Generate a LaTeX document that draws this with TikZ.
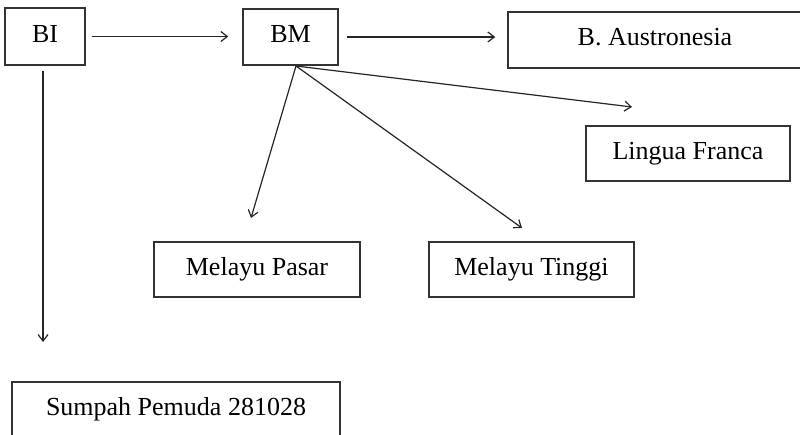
\documentclass[tikz,border=0pt]{standalone}
\usepackage{fontspec}
\setmainfont{Liberation Serif}
\usetikzlibrary{arrows.meta}
\begin{document}
\begin{tikzpicture}[x=1pt,y=-1pt,
 box/.style={draw=black!80, line width=1.4pt, inner sep=0pt, font=\fontsize{26}{30}\selectfont, text height=18pt, text depth=6pt},
 conn/.style={draw=black!85, line width=1.2pt, -{Straight Barb[length=6.5pt,width=10pt]}}]
\fill[white] (0,0) rectangle (800,435);
\clip (0,0) rectangle (800,435);
\useasboundingbox (0,0) rectangle (800,435);
\node[box, minimum width=80pt, minimum height=57pt] (bi) at (45,36.5) {BI};
\node[box, minimum width=95pt, minimum height=56pt] (bm) at (290.5,37) {BM};
\node[box, minimum width=294pt, minimum height=56pt] (aus) at (655,40) {B. Austronesia};
\node[box, minimum width=204pt, minimum height=55pt] (lf) at (688,153.5) {Lingua Franca};
\node[box, minimum width=206pt, minimum height=55pt] (mp) at (257,269.5) {Melayu Pasar};
\node[box, minimum width=205pt, minimum height=55pt] (mt) at (531.5,269.5) {Melayu Tinggi};
\node[box, minimum width=328pt, minimum height=55pt] (sp) at (176,409.5) {Sumpah Pemuda 281028};
\coordinate (biend) at (43,342);
\coordinate (bmfoot) at (296,66);
\coordinate (lfend) at (632,107);
\coordinate (mpend) at (251,218);
\coordinate (mtend) at (522,228);
\draw[conn, shorten <=6pt, shorten >=14pt] (bi.east) -- (bi.east -| bm.west);
\draw[conn, shorten <=8pt, shorten >=12pt] (bm.east) -- (bm.east -| aus.west);
\draw[conn, shorten <=5pt] (bi.south -| biend) -- (biend);
\draw[conn] (bmfoot) -- (lfend);
\draw[conn] (bmfoot) -- (mpend);
\draw[conn] (bmfoot) -- (mtend);
\end{tikzpicture}
\end{document}
